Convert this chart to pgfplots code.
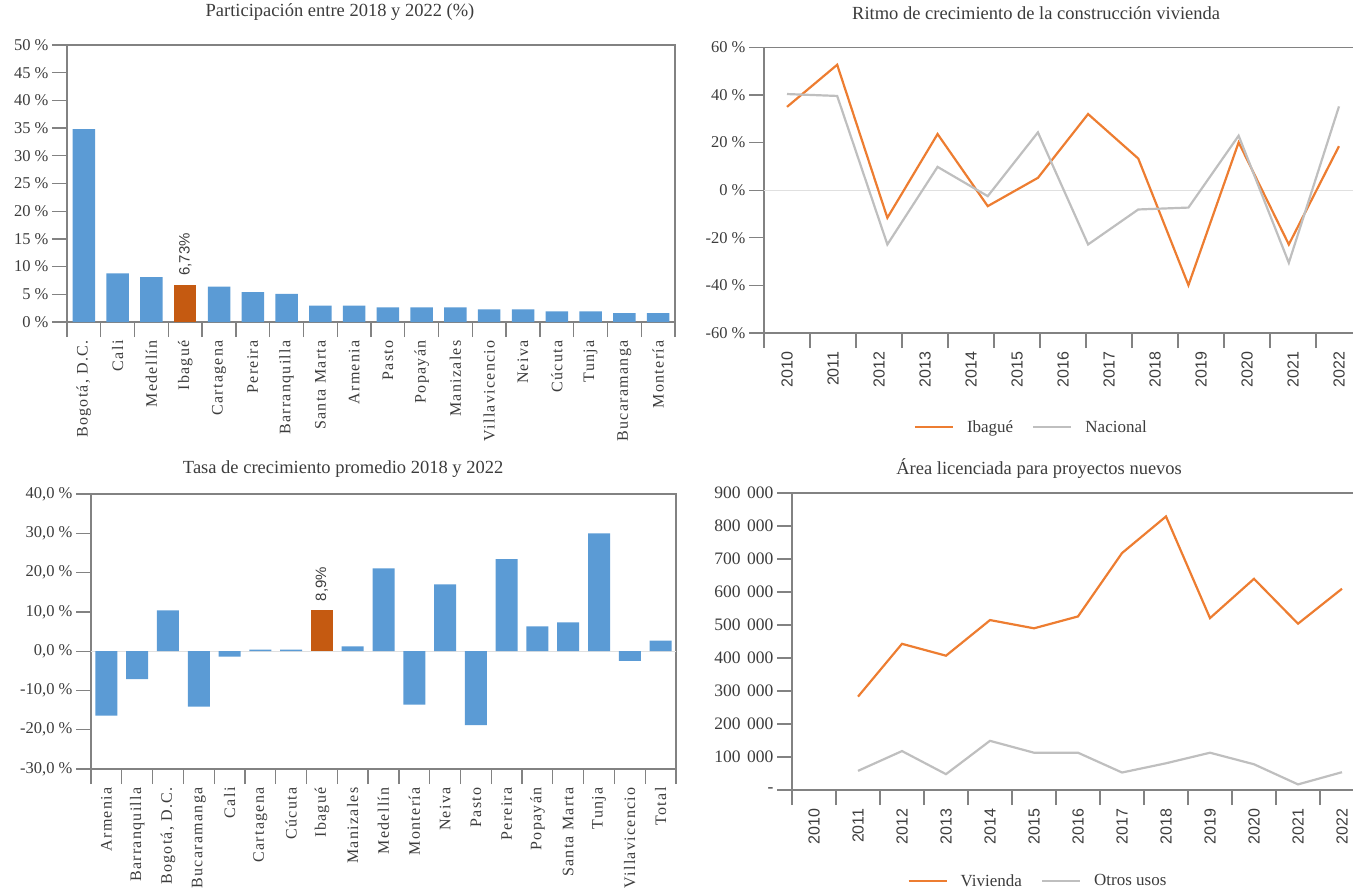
\documentclass[border=0pt]{standalone}
\usepackage{fontspec}
\setmainfont{Liberation Serif}
\newfontfamily\sansf{Liberation Sans}
\newfontfamily\spaced[LetterSpace=8]{Liberation Serif}
\usepackage{pgfplots}
\pgfplotsset{compat=1.18}

\definecolor{barblue}{HTML}{5B9BD5}
\definecolor{barorange}{HTML}{C55A11}
\definecolor{lineorange}{HTML}{ED7D31}
\definecolor{linegrey}{HTML}{BFBFBF}
\definecolor{axisgrey}{HTML}{828282}
\definecolor{txt}{HTML}{3C3C3C}

\newcommand\labA{6,73\%}
\newcommand\labB{8,9\%}
\newcommand\ks{\hspace{6.5pt}}

\pgfplotsset{
  base/.style={
    scale only axis,
    axis line style={draw=axisgrey, line width=1.3pt},
    tick style={draw=axisgrey, line width=1.3pt},
    tick align=outside,
    major tick length=15pt,
    minor tick length=15pt,
    major x tick style={draw=none},
    xtick pos=bottom, ytick pos=left,
    ticklabel style={text=txt},
    yticklabel style={font=\fontsize{16.5}{16.5}\selectfont},
    title style={font=\fontsize{18.5}{18.5}\selectfont, text=txt},
    legend style={draw=none, fill=none, legend columns=-1, font=\fontsize{17}{17}\selectfont, text=txt,
      /tikz/every odd column/.append style={column sep=11pt},
      /tikz/every even column/.append style={column sep=17pt}},
  },
  catx/.style={xticklabel style={rotate=90, anchor=east, font=\spaced\fontsize{16}{16}\selectfont}},
  yearx/.style={xticklabel style={rotate=90, anchor=east, font=\sansf\fontsize{16}{16}\selectfont}},
  zeroline/.style={extra y ticks={0}, extra y tick labels={},
    extra y tick style={grid=major, major grid style={draw=black!12, line width=1pt}, tick style={draw=none}}},
}

\begin{document}
\begin{tikzpicture}
\path[use as bounding box] (0,0) rectangle (1353pt,-894pt);

% ---------------- Panel 1 ----------------
\begin{axis}[base, catx,
  at={(67pt,-322pt)}, anchor=south west, width=608pt, height=277pt,
  xmin=-0.5, xmax=17.5, ymin=0, ymax=50,
  ytick={0,5,...,50},
  yticklabels={0 \%,5 \%,10 \%,15 \%,20 \%,25 \%,30 \%,35 \%,40 \%,45 \%,50 \%},
  xtick={0,...,17},
  xticklabels={{Bogotá, D.C.},Cali,Medellín,Ibagué,Cartagena,Pereira,Barranquilla,Santa Marta,Armenia,Pasto,Popayán,Manizales,Villavicencio,Neiva,Cúcuta,Tunja,Bucaramanga,Montería},
  minor xtick={-0.5,0.5,...,17.5},
  ybar, bar width=22.5pt,
  title={Participación entre 2018 y 2022 (\%)},
  title style={at={(0.449,1.0975)}, anchor=center},
]
\addplot[fill=barblue, draw=none, bar shift=0pt] coordinates {
 (0,34.8) (1,8.8) (2,8.1) (4,6.4) (5,5.4) (6,5.1) (7,2.95) (8,2.95) (9,2.65)
 (10,2.65) (11,2.65) (12,2.3) (13,2.3) (14,1.9) (15,1.9) (16,1.6) (17,1.6)};
\addplot[fill=barorange, draw=none, bar shift=0pt, nodes near coords={\labA},
  every node near coord/.append style={rotate=90, anchor=west, inner sep=9pt,
  font=\sansf\fontsize{15}{15}\selectfont, text=txt}] coordinates {(3,6.73)};
\end{axis}

% ---------------- Panel 2 ----------------
\begin{axis}[base, yearx, zeroline,
  at={(764pt,-333pt)}, anchor=south west, width=598pt, height=285.6pt,
  xmin=-0.5, xmax=12.5, ymin=-60, ymax=60,
  ytick={-60,-40,...,60},
  yticklabels={-60 \%,-40 \%,-20 \%,0 \%,20 \%,40 \%,60 \%},
  xtick={0,...,12},
  xticklabels={2010,2011,2012,2013,2014,2015,2016,2017,2018,2019,2020,2021,2022},
  minor xtick={-0.5,0.5,...,12.5},
  title={Ritmo de crecimiento de la construcción vivienda},
  title style={at={(0.455,1.10)}, anchor=center},
  legend style={at={(0.447,-0.33)}, anchor=center},
  legend image code/.code={\draw[#1] (0pt,0pt) -- (38pt,0pt);},
]
\addplot[lineorange, line width=2.2pt] coordinates {
 (0,35.0) (1.091,52.7) (2.182,-11.6) (3.273,23.6) (4.364,-6.7) (5.455,5.2)
 (6.545,32.0) (7.636,13.3) (8.727,-39.9) (9.818,20.1) (10.909,-22.8) (12,18.5)};
\addlegendentry{Ibagué}
\addplot[linegrey, line width=2.2pt] coordinates {
 (0,40.4) (1.091,39.6) (2.182,-22.8) (3.273,9.8) (4.364,-2.5) (5.455,24.3)
 (6.545,-22.8) (7.636,-8.1) (8.727,-7.3) (9.818,22.9) (10.909,-30.5) (12,35.2)};
\addlegendentry{Nacional}
\end{axis}

% ---------------- Panel 3 ----------------
\begin{axis}[base, catx, zeroline,
  at={(91pt,-769pt)}, anchor=south west, width=585pt, height=275pt,
  xmin=-0.5, xmax=18.5, ymin=-30, ymax=40,
  ytick={-30,-20,...,40},
  yticklabels={-30{,}0 \%,-20{,}0 \%,-10{,}0 \%,0{,}0 \%,10{,}0 \%,20{,}0 \%,30{,}0 \%,40{,}0 \%},
  xtick={0,...,18},
  xticklabels={Armenia,Barranquilla,{Bogotá, D.C.},Bucaramanga,Cali,Cartagena,Cúcuta,Ibagué,Manizales,Medellín,Montería,Neiva,Pasto,Pereira,Popayán,Santa Marta,Tunja,Villavicencio,Total},
  minor xtick={-0.5,0.5,...,18.5},
  ybar, bar width=22pt,
  title={Tasa de crecimiento promedio 2018 y 2022},
  title style={at={(0.431,1.069)}, anchor=center},
]
\addplot[fill=barblue, draw=none, bar shift=0pt] coordinates {
 (0,-16.4) (1,-7.1) (2,10.4) (3,-14.1) (4,-1.4) (5,0.4) (6,0.4) (8,1.2)
 (9,21.1) (10,-13.6) (11,17.0) (12,-18.8) (13,23.4) (14,6.3) (15,7.3)
 (16,30.0) (17,-2.5) (18,2.7)};
\addplot[fill=barorange, draw=none, bar shift=0pt, nodes near coords={\labB},
  every node near coord/.append style={rotate=90, anchor=west, inner sep=9pt,
  font=\sansf\fontsize{15}{15}\selectfont, text=txt}] coordinates {(7,10.4)};
\end{axis}

% ---------------- Panel 4 ----------------
\begin{axis}[base, yearx,
  at={(792pt,-790pt)}, anchor=south west, width=572pt, height=297pt,
  xmin=-0.5, xmax=12.5, ymin=0, ymax=900000,
  ytick={0,100000,...,900000},
  yticklabels={-,100\ks000,200\ks000,300\ks000,400\ks000,500\ks000,600\ks000,700\ks000,800\ks000,900\ks000},
  yticklabel style={font=\fontsize{17.5}{17.5}\selectfont},
  scaled y ticks=false,
  xtick={0,...,12},
  xticklabels={2010,2011,2012,2013,2014,2015,2016,2017,2018,2019,2020,2021,2022},
  minor xtick={-0.5,0.5,...,12.5},
  title={Área licenciada para proyectos nuevos},
  title style={at={(0.432,1.061)}, anchor=center},
  legend style={at={(0.43,-0.306)}, anchor=center},
  legend image code/.code={\draw[#1] (0pt,0pt) -- (38pt,0pt);},
]
\addplot[lineorange, line width=2.2pt] coordinates {
 (1,283000) (2,443000) (3,407000) (4,515000) (5,490000) (6,526000)
 (7,718000) (8,829000) (9,521000) (10,640000) (11,504000) (12,610000)};
\addlegendentry{Vivienda}
\addplot[linegrey, line width=2.2pt] coordinates {
 (1,58000) (2,118000) (3,48000) (4,149000) (5,113000) (6,113000)
 (7,53000) (8,81000) (9,113000) (10,78000) (11,17000) (12,54000)};
\addlegendentry{Otros usos}
\end{axis}
\end{tikzpicture}
\end{document}
